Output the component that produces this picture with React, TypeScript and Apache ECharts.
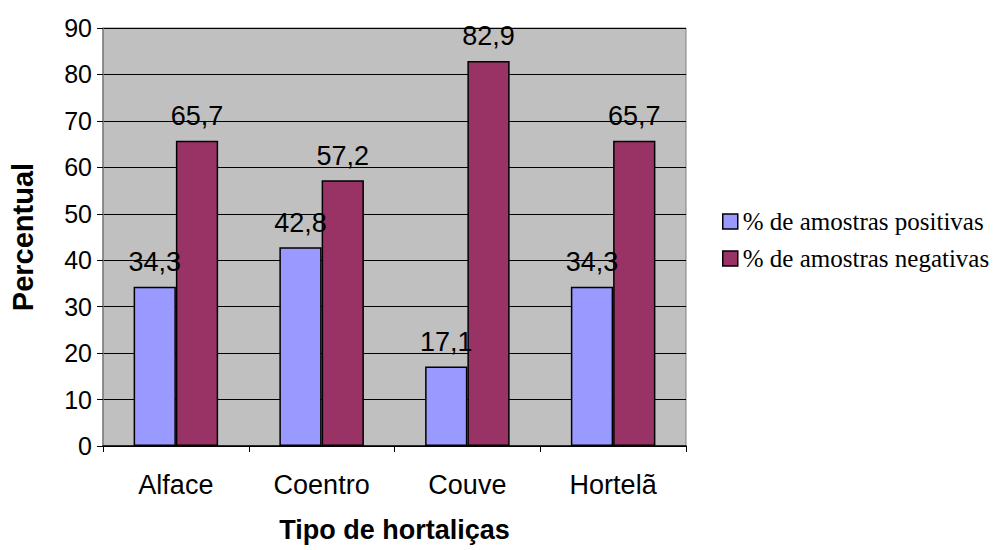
import React, { useEffect, useRef } from "react";
import * as echarts from "echarts";

const categories = ["Alface", "Coentro", "Couve", "Hortelã"];
const positivas = [34.3, 42.8, 17.1, 34.3];
const negativas = [65.7, 57.2, 82.9, 65.7];
const seriesNames = ["% de amostras positivas", "% de amostras negativas"];

export default function App() {
  const ref = useRef<HTMLDivElement>(null);
  useEffect(() => {
    const chart = echarts.init(ref.current!, null, { renderer: "svg" });
    const fmt = (p: any) => String(p.value).replace(".", ",");
    const labelStyle = {
      show: true,
      position: "top" as const,
      distance: 11,
      formatter: fmt,
      fontFamily: "Liberation Sans",
      fontSize: 27,
      color: "#000",
    };
    chart.setOption({
      animation: false,
      backgroundColor: "#fff",
      grid: {
        left: 103,
        top: 28,
        width: 583,
        height: 418,
        show: true,
        backgroundColor: "#C0C0C0",
        borderColor: "#808080",
        borderWidth: 1,
      },
      legend: {
        orient: "vertical",
        left: 717,
        top: 204,
        itemGap: 12,
        itemWidth: 15,
        itemHeight: 15,
        icon: "rect",
        textStyle: { fontFamily: "Liberation Serif", fontSize: 25, color: "#000" },
        data: seriesNames.map((n) => ({ name: n, itemStyle: { borderColor: "#000", borderWidth: 1.5 } })),
      },
      xAxis: {
        type: "category",
        data: categories,
        boundaryGap: true,
        name: "Tipo de hortaliças",
        nameLocation: "middle",
        nameGap: 70,
        nameTextStyle: { fontFamily: "Liberation Sans", fontSize: 27, fontWeight: "bold", color: "#000" },
        axisLine: { lineStyle: { color: "#000", width: 1.5 } },
        axisTick: { show: true, alignWithLabel: false, length: 6, lineStyle: { color: "#000" } },
        axisLabel: { fontFamily: "Liberation Sans", fontSize: 27, color: "#000", margin: 25 },
      },
      yAxis: {
        type: "value",
        min: 0,
        max: 90,
        interval: 10,
        name: "Percentual",
        nameLocation: "middle",
        nameGap: 66,
        nameTextStyle: { fontFamily: "Liberation Sans", fontSize: 29, fontWeight: "bold", color: "#000" },
        axisLine: { show: true, lineStyle: { color: "#808080", width: 1.5 } },
        axisTick: { show: true, length: 6, lineStyle: { color: "#000" } },
        axisLabel: { fontFamily: "Liberation Sans", fontSize: 25, color: "#000", margin: 11 },
        splitLine: { show: true, lineStyle: { color: "#000", width: 1 } },
      },
      series: [
        {
          name: seriesNames[0],
          type: "bar",
          data: positivas,
          barGap: "0%",
          barCategoryGap: "42%",
          itemStyle: { color: "#9999FF", borderColor: "#000", borderWidth: 1.5 },
          label: labelStyle,
        },
        {
          name: seriesNames[1],
          type: "bar",
          data: negativas,
          barGap: "0%",
          barCategoryGap: "42%",
          itemStyle: { color: "#993366", borderColor: "#000", borderWidth: 1.5 },
          label: labelStyle,
        },
      ],
    });
    return () => chart.dispose();
  }, []);
  return (
    <div
      ref={ref}
      style={{ position: "fixed", left: 0, top: 0, width: 1007, height: 550 }}
    />
  );
}
